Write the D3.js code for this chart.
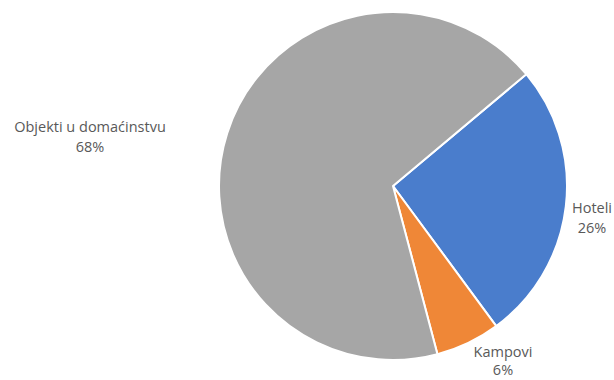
<!DOCTYPE html>
<html><head><meta charset="utf-8">
<script src="https://cdn.jsdelivr.net/npm/d3@7"></script>
<style>body{margin:0;background:#fff;}svg{display:block;}</style>
</head><body>
<svg id="c" width="614" height="380"></svg>
<script>
const categories = ["Hoteli", "Kampovi", "Objekti u domaćinstvu"];
const values = [26, 6, 68];
const colors = ["#4a7dcc", "#ef8737", "#a6a6a6"];
const labelPos = [[592, 213], [503, 357], [90, 132]];

const svg = d3.select("#c");
const cx = 393, cy = 186, r = 174;
const startAngle = 50 * Math.PI / 180;
const pie = d3.pie().sort(null).startAngle(startAngle).endAngle(startAngle + 2 * Math.PI);
const arc = d3.arc().innerRadius(0).outerRadius(r);
const g = svg.append("g").attr("transform", `translate(${cx},${cy})`);
g.selectAll("path").data(pie(values)).join("path")
  .attr("d", arc)
  .attr("fill", (d, i) => colors[i])
  .attr("stroke", "#fff").attr("stroke-width", 2).attr("stroke-linejoin", "round");

const total = d3.sum(values);
const lab = svg.append("g").attr("font-family", "'Open Sans', sans-serif").attr("font-size", 14.5).attr("fill", "#595959").attr("text-anchor", "middle");
categories.forEach((c, i) => {
  const t = lab.append("text").attr("x", labelPos[i][0]).attr("y", labelPos[i][1]);
  t.append("tspan").attr("x", labelPos[i][0]).text(c);
  t.append("tspan").attr("x", labelPos[i][0]).attr("dy", i === 1 ? 18 : 20).text(Math.round(values[i] / total * 100) + "%");
});
</script>
</body></html>
